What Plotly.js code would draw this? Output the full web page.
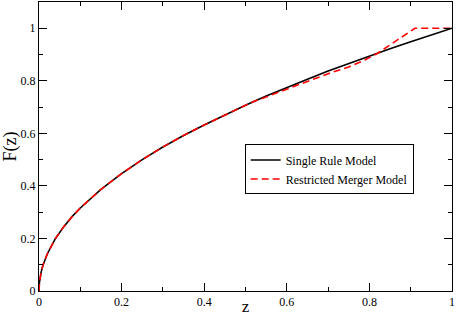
<!DOCTYPE html>
<html><head><meta charset="utf-8">
<script src="https://cdn.plot.ly/plotly-3.0.1.min.js"></script>
<style>html,body{margin:0;padding:0;background:#fff}#c{width:456px;height:316px}</style>
</head><body><div id="c"></div>
<script>
const zSingle = [0,0.001,0.005,0.01,0.02,0.04,0.06,0.08,0.1,0.15,0.2,0.25,0.3,0.35,0.4,0.45,0.5,0.55,0.6,0.65,0.7,0.75,0.8,0.85,0.9,0.95,1];
const fSingle = [0,0.032,0.071,0.1,0.141,0.2,0.245,0.283,0.316,0.387,0.447,0.5,0.548,0.592,0.632,0.671,0.707,0.742,0.775,0.806,0.837,0.866,0.894,0.922,0.949,0.975,1];
const zMerger = [0,0.001,0.005,0.01,0.02,0.04,0.06,0.08,0.1,0.15,0.2,0.25,0.3,0.35,0.4,0.45,0.5,0.52,0.6,0.7,0.75,0.79,0.82,0.91,1];
const fMerger = [0,0.032,0.071,0.1,0.141,0.2,0.245,0.283,0.316,0.387,0.447,0.5,0.548,0.592,0.632,0.671,0.707,0.721,0.768,0.827,0.853,0.88,0.905,1,1];
const names = ['Single Rule Model','Restricted Merger Model'];

const font = {family:'Liberation Serif, Times New Roman, serif', color:'#000'};
const axisCommon = {
  showline:true, linecolor:'#000', linewidth:1, mirror:'ticks',
  ticks:'inside', ticklen:8, tickwidth:1, tickcolor:'#000',
  showgrid:false, zeroline:false,
  tickfont:Object.assign({size:12}, font),
  minor:{dtick:0.1, ticks:'inside', ticklen:4, tickwidth:1, tickcolor:'#000', showgrid:false}
};
const data = [
  {x:zSingle, y:fSingle, mode:'lines', name:names[0], line:{color:'#000', width:1.6}},
  {x:zMerger, y:fMerger, mode:'lines', name:names[1], line:{color:'#ff0000', width:1.6, dash:'7px,4px'}}
];
const layout = {
  width:456, height:316,
  margin:{l:39, r:4, t:2, b:25},
  paper_bgcolor:'#fff', plot_bgcolor:'#fff',
  font:font,
  xaxis:Object.assign({}, axisCommon, {range:[0,1], dtick:0.2, tick0:0,
    title:{text:'z', font:Object.assign({size:17}, font), standoff:2}}),
  yaxis:Object.assign({}, axisCommon, {range:[0,1.1], dtick:0.2, tick0:0,
    title:{text:'F(z)', font:Object.assign({size:18}, font), standoff:4}}),
  showlegend:true,
  legend:{x:0.498, y:0.507, xanchor:'left', yanchor:'top', bgcolor:'#fff',
    bordercolor:'#000', borderwidth:1, font:Object.assign({size:12}, font),
    tracegroupgap:0, itemwidth:30}
};
Plotly.newPlot('c', data, layout, {displayModeBar:false, staticPlot:true});
</script></body></html>
